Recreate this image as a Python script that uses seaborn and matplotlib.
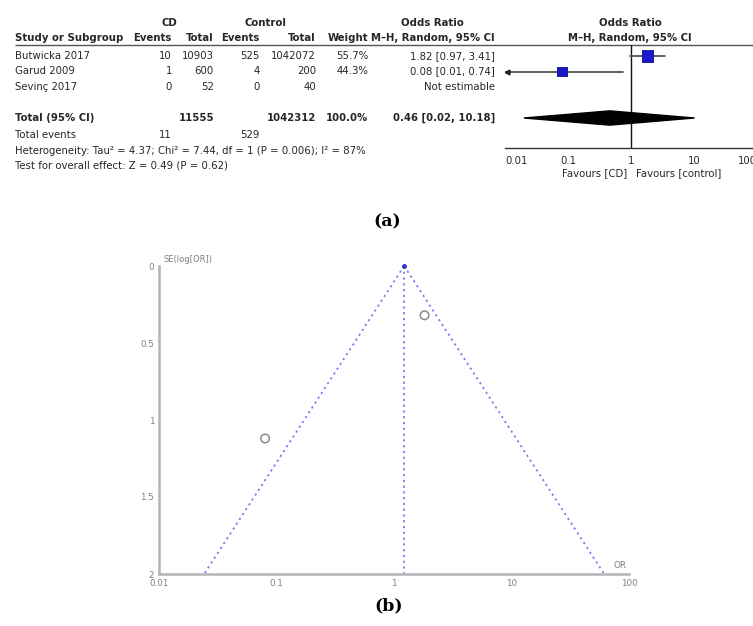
import numpy as np
import pandas as pd
import matplotlib
matplotlib.use("Agg")
import matplotlib.pyplot as plt
import seaborn as sns

# ---------------- data ----------------
studies = ["Butwicka 2017", "Garud 2009", "Sevinç 2017"]
cd_events = [10, 1, 0]
cd_total = [10903, 600, 52]
ctrl_events = [525, 4, 0]
ctrl_total = [1042072, 200, 40]
weights = [55.7, 44.3, np.nan]
or_vals = [1.82, 0.08, np.nan]
ci_low = [0.97, 0.01, np.nan]
ci_high = [3.41, 0.74, np.nan]
or_text = ["1.82 [0.97, 3.41]", "0.08 [0.01, 0.74]", "Not estimable"]

total_cd = 11555
total_ctrl = 1042312
total_events_cd = 11
total_events_ctrl = 529
total_or = 0.46
total_low = 0.02
total_high = 10.18
heterogeneity = "Heterogeneity: Tau² = 4.37; Chi² = 7.44, df = 1 (P = 0.006); I² = 87%"
overall = "Test for overall effect: Z = 0.49 (P = 0.62)"

forest_ticks = [0.01, 0.1, 1, 10, 100]
forest_ticklabels = ["0.01", "0.1", "1", "10", "100"]

funnel_or = [1.82, 0.08]
funnel_se = [0.32, 1.12]
pooled_or = 1.22
se_max = 2.0
funnel_yticks = [0, 0.5, 1, 1.5, 2]
funnel_yticklabels = ["0", "0.5", "1", "1.5", "2"]

# ---------------- style ----------------
sns.set_style("white")
plt.rcParams["font.family"] = ["DejaVu Sans"]

W, H = 753, 626
fig = plt.figure(figsize=(W / 100, H / 100), dpi=100)

TXT = "#262626"
FS = 7.3

# table axes: x in pixels, y in rows
top_px, bot_px = 0, 200
tab = fig.add_axes([0, 1 - bot_px / H, 1, (bot_px - top_px) / H])
tab.set_xlim(0, W)
tab.set_ylim((bot_px - 56) / 15.5, (top_px - 56) / 15.5)
tab.axis("off")

def t(x, r, s, ha="right", bold=False, **kw):
    tab.text(x, r, s, ha=ha, va="center", fontsize=FS, color=TXT,
             fontweight="bold" if bold else "normal", **kw)

# headers
t(169, -2.1, "CD", ha="center", bold=True)
t(266, -2.1, "Control", ha="center", bold=True)
t(432, -2.1, "Odds Ratio", ha="center", bold=True)
t(630, -2.1, "Odds Ratio", ha="center", bold=True)
hr = -1.15
t(15, hr, "Study or Subgroup", ha="left", bold=True)
t(172, hr, "Events", bold=True)
t(214, hr, "Total", bold=True)
t(260, hr, "Events", bold=True)
t(316, hr, "Total", bold=True)
t(368, hr, "Weight", bold=True)
t(495, hr, "M–H, Random, 95% CI", bold=True)
t(630, hr, "M–H, Random, 95% CI", ha="center", bold=True)
tab.plot([15, W], [-0.71, -0.71], color="#555555", lw=1.0, solid_capstyle="butt")

for i, s in enumerate(studies):
    t(15, i, s, ha="left")
    t(172, i, str(cd_events[i]))
    t(214, i, str(cd_total[i]))
    t(260, i, str(ctrl_events[i]))
    t(316, i, str(ctrl_total[i]))
    if not np.isnan(weights[i]):
        t(368, i, f"{weights[i]:.1f}%")
    t(495, i, or_text[i])

t(15, 4, "Total (95% CI)", ha="left", bold=True)
t(214, 4, str(total_cd), bold=True)
t(316, 4, str(total_ctrl), bold=True)
t(368, 4, "100.0%", bold=True)
t(495, 4, f"{total_or:.2f} [{total_low:.2f}, {total_high:.2f}]", bold=True)
t(15, 5.1, "Total events", ha="left")
t(172, 5.1, str(total_events_cd))
t(260, 5.1, str(total_events_ctrl))
t(15, 6.1, heterogeneity, ha="left")
t(15, 7.05, overall, ha="left")

# forest axes
fx0, fx1 = 505, 757
fy0, fy1 = 45, 148
fa = fig.add_axes([fx0 / W, 1 - fy1 / H, (fx1 - fx0) / W, (fy1 - fy0) / H])
fa.set_xscale("log")
fa.set_xlim(0.01, 100)
fa.set_ylim((fy1 - 56) / 15.5, (fy0 - 56) / 15.5)
fa.patch.set_alpha(0)
for sp in ["top", "left", "right"]:
    fa.spines[sp].set_visible(False)
fa.spines["bottom"].set_color("#333333")
fa.spines["bottom"].set_linewidth(1.0)
fa.set_xticks(forest_ticks)
fa.set_xticklabels(forest_ticklabels)
fa.xaxis.set_minor_locator(matplotlib.ticker.NullLocator())
fa.tick_params(axis="x", direction="inout", length=7, width=1, color="#333333",
               labelsize=FS, labelcolor=TXT, pad=2)
tl = fa.get_xticklabels()
tl[0].set_horizontalalignment("left")
tl[-1].set_horizontalalignment("right")
fa.set_yticks([])
fa.axvline(1, color="#111111", lw=1.0)

df = pd.DataFrame({"study": studies, "row": [0, 1, 2], "or": or_vals,
                   "lo": ci_low, "hi": ci_high, "w": weights}).dropna()
for _, r in df.iterrows():
    lo = max(r["lo"], 0.0105)
    fa.plot([lo, r["hi"]], [r["row"], r["row"]], color="#555555", lw=1.3)
    if r["lo"] <= 0.01:
        fa.plot([0.0108], [r["row"]], marker="<", color="#222222", ms=3.5)
sns.scatterplot(data=df, x="or", y="row", size="w", sizes=(50, 64), marker="s",
                color="#1a1acc", edgecolor="#0a0a88", linewidth=0.6, legend=False,
                ax=fa, zorder=5)
fa.set_xlabel("")
fa.set_ylabel("")
dh = 0.46
fa.fill([total_low, total_or, total_high, total_or],
        [4, 4 - dh, 4, 4 + dh], color="black", zorder=4)

fig.text(627 / W, 1 - 173 / H, "Favours [CD]", ha="right", va="center",
         fontsize=FS, color=TXT)
fig.text(636 / W, 1 - 173 / H, "Favours [control]", ha="left", va="center",
         fontsize=FS, color=TXT)

fig.text(387 / W, 1 - 222 / H, "(a)", ha="center", va="center", fontsize=12.5,
         fontweight="bold", family="DejaVu Serif", color="black")
fig.text(389 / W, 1 - 606 / H, "(b)", ha="center", va="center", fontsize=12.5,
         fontweight="bold", family="DejaVu Serif", color="black")

# ---------------- funnel plot ----------------
gx0, gx1 = 159, 629
gy0, gy1 = 266, 574
ga = fig.add_axes([gx0 / W, 1 - gy1 / H, (gx1 - gx0) / W, (gy1 - gy0) / H])
ga.set_xscale("log")
ga.set_xlim(0.01, 100)
ga.set_ylim(se_max, 0)
ga.patch.set_alpha(0)
GRAY = "#b4b4b4"
for sp in ["top", "right"]:
    ga.spines[sp].set_visible(False)
for sp in ["left", "bottom"]:
    ga.spines[sp].set_color(GRAY)
    ga.spines[sp].set_linewidth(1.8)
ga.set_xticks(forest_ticks)
ga.set_xticklabels(forest_ticklabels)
ga.xaxis.set_minor_locator(matplotlib.ticker.NullLocator())
ga.set_yticks(funnel_yticks)
ga.set_yticklabels(funnel_yticklabels)
ga.tick_params(direction="inout", length=5, width=1, color="#999999",
               labelsize=6.3, labelcolor="#808080", pad=1)

se_line = np.array([0, se_max])
z = 1.96
lc = "#7c7cf2"
ls = (0, (1.2, 2.0))
ga.plot([pooled_or, pooled_or], se_line, ls=ls, color=lc, lw=1.3)
ga.plot(pooled_or * np.exp(-z * se_line), se_line, ls=ls, color=lc, lw=1.3)
ga.plot(pooled_or * np.exp(z * se_line), se_line, ls=ls, color=lc, lw=1.3)
ga.plot([pooled_or], [0], marker="o", ms=2.5, color="#3030d0", clip_on=False)

fdf = pd.DataFrame({"or": funnel_or, "se": funnel_se})
sns.scatterplot(data=fdf, x="or", y="se", marker="o", s=38, facecolor="none",
                edgecolor="#8a8a8a", linewidth=1.1, ax=ga, zorder=5)
ga.set_xlabel("")
ga.set_ylabel("")

fig.text(163 / W, 1 - 259 / H, "SE(log[OR])", ha="left", va="center",
         fontsize=6, color="#808080")
fig.text(627 / W, 1 - 565 / H, "OR", ha="right", va="center",
         fontsize=6.3, color="#808080")

fig.savefig("out.png", dpi=100)
